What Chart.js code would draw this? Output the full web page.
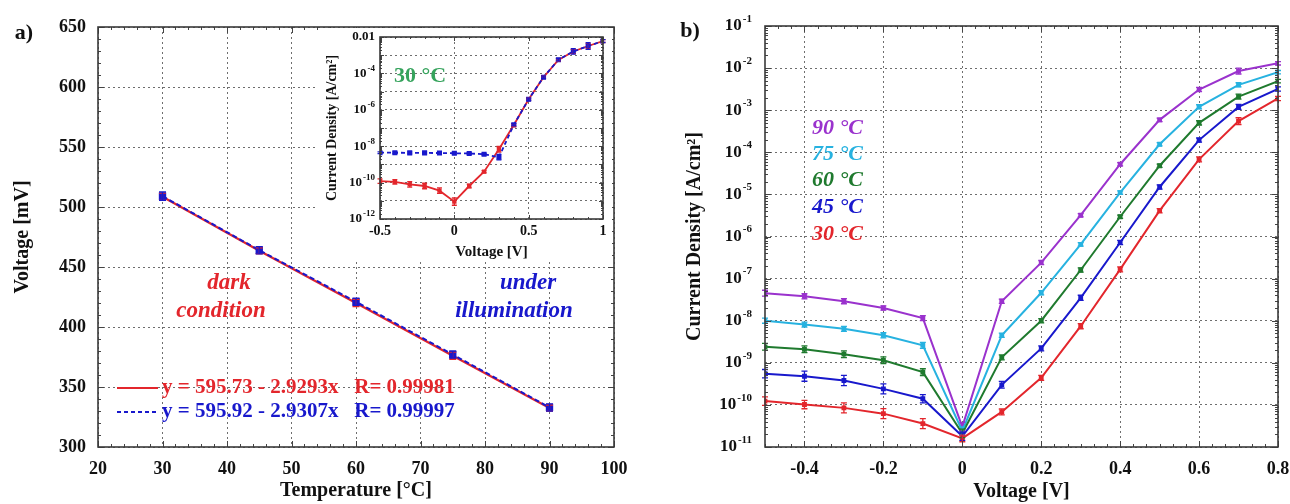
<!DOCTYPE html>
<html>
<head>
<meta charset="utf-8">
<script src="https://cdn.jsdelivr.net/npm/chart.js@4.4.1/dist/chart.umd.min.js"></script>
<style>
  html, body { margin: 0; padding: 0; background: #fff; }
  #wrap { position: relative; width: 1290px; height: 504px; overflow: hidden; }
  canvas { position: absolute; }
  #cA { left: 0; top: 0; }
  #cIn { left: 318px; top: 28px; background: #fff; }
  #cB { left: 640px; top: 0; }
</style>
</head>
<body>
<div id="wrap">
  <canvas id="cA" width="640" height="504"></canvas>
  <canvas id="cIn" width="294" height="234"></canvas>
  <canvas id="cB" width="650" height="504"></canvas>
</div>
<script>
/* ---------- a) open-circuit voltage vs temperature ---------- */
const tempC = [30, 45, 60, 75, 90];
const vocDark = [508.5, 463.5, 420, 376, 332.5];
const vocLight = [509, 464, 421, 377, 333];
const errDark = [3, 2.5, 3, 3, 2.5];
const errLight = [3.5, 3, 3, 3, 3];
const tempTicks = [20, 30, 40, 50, 60, 70, 80, 90, 100];
const vocTicks = [300, 350, 400, 450, 500, 550, 600, 650];
const fitDarkText = 'y = 595.73 - 2.9293x   R= 0.99981';
const fitLightText = 'y = 595.92 - 2.9307x   R= 0.99997';

/* ---------- inset: J-V at 30 °C ---------- */
const insetV = [-0.5, -0.4, -0.3, -0.2, -0.1, 0, 0.1, 0.2, 0.3, 0.4, 0.5, 0.6, 0.7, 0.8, 0.9, 1.0];
const insetDark = [1.2e-10, 1.1e-10, 8e-11, 6.5e-11, 3.6e-11, 9e-12, 6.5e-11, 4e-10, 6.8e-9, 1.45e-7, 3.8e-6, 6.2e-5, 5.5e-4, 1.6e-3, 3.2e-3, 6.0e-3];
const insetLight = [4.4e-9, 4.4e-9, 4.3e-9, 4.3e-9, 4.2e-9, 4.1e-9, 4.0e-9, 3.6e-9, 2.5e-9, 1.5e-7, 3.8e-6, 6.2e-5, 5.6e-4, 1.6e-3, 3.2e-3, 6.0e-3];
const insetDarkErr = [0.12, 0.12, 0.15, 0.15, 0.15, 0.2, 0.1, 0.06, 0.15, 0.08, 0.06, 0.06, 0.06, 0.12, 0.15, 0.08];
const insetLightErr = [0.05, 0.05, 0.05, 0.05, 0.05, 0.05, 0.05, 0.05, 0.15, 0.06, 0.06, 0.06, 0.06, 0.15, 0.18, 0.08];
const insetVTicks = [-0.5, 0, 0.5, 1];
const insetDecades = [-12, -11, -10, -9, -8, -7, -6, -5, -4, -3, -2];
const insetLabelExps = [-12, -10, -8, -6, -4, -2];

/* ---------- b) J-V at several temperatures ---------- */
const bV = [-0.5, -0.4, -0.3, -0.2, -0.1, 0, 0.1, 0.2, 0.3, 0.4, 0.5, 0.6, 0.7, 0.8];
const j90 = [4.5e-8, 3.8e-8, 2.9e-8, 2.0e-8, 1.15e-8, 3.0e-11, 2.9e-8, 2.4e-7, 3.2e-6, 5.2e-5, 5.9e-4, 3.1e-3, 8.5e-3, 1.3e-2];
const j75 = [1.0e-8, 8.1e-9, 6.4e-9, 4.5e-9, 2.6e-9, 2.4e-11, 4.5e-9, 4.6e-8, 6.5e-7, 1.1e-5, 1.55e-4, 1.2e-3, 4.0e-3, 8.0e-3];
const j60 = [2.4e-9, 2.1e-9, 1.6e-9, 1.15e-9, 6.0e-10, 2.1e-11, 1.35e-9, 1.0e-8, 1.6e-7, 2.95e-6, 4.8e-5, 5.0e-4, 2.1e-3, 4.9e-3];
const j45 = [5.5e-10, 4.8e-10, 3.8e-10, 2.4e-10, 1.4e-10, 1.8e-11, 3.0e-10, 2.2e-9, 3.5e-8, 7.2e-7, 1.5e-5, 1.95e-4, 1.2e-3, 3.2e-3];
const j30 = [1.23e-10, 1.02e-10, 8.5e-11, 6.2e-11, 3.6e-11, 1.6e-11, 6.8e-11, 4.4e-10, 7.4e-9, 1.65e-7, 4.1e-6, 6.8e-5, 5.5e-4, 1.9e-3];
const err90 = [0.07, 0.06, 0.06, 0.05, 0.06, 0.10, 0.05, 0.05, 0.04, 0.04, 0.04, 0.05, 0.07, 0.04];
const err75 = [0.06, 0.06, 0.06, 0.06, 0.07, 0.10, 0.05, 0.05, 0.04, 0.04, 0.04, 0.05, 0.05, 0.04];
const err60 = [0.08, 0.08, 0.08, 0.08, 0.08, 0.10, 0.06, 0.05, 0.05, 0.04, 0.04, 0.05, 0.06, 0.04];
const err45 = [0.10, 0.12, 0.12, 0.12, 0.10, 0.10, 0.08, 0.06, 0.06, 0.05, 0.05, 0.05, 0.06, 0.05];
const err30 = [0.10, 0.10, 0.12, 0.12, 0.12, 0.08, 0.07, 0.06, 0.06, 0.06, 0.05, 0.06, 0.08, 0.05];
const bVTicks = [-0.4, -0.2, 0, 0.2, 0.4, 0.6, 0.8];
const bDecades = [-11, -10, -9, -8, -7, -6, -5, -4, -3, -2, -1];
const tempLabels = ['90 °C', '75 °C', '60 °C', '45 °C', '30 °C'];

const RED = '#e3262c', BLUE = '#1818cc', PURPLE = '#9a32cd', CYAN = '#27b2e0', GREEN = '#1f7a2e';
const SERIF = '"Liberation Serif", "Times New Roman", serif';
Chart.defaults.font.family = SERIF;
Chart.defaults.font.weight = 'bold';
Chart.defaults.color = '#111';

const pts = (xs, ys) => xs.map((x, i) => ({ x: x, y: ys[i] }));

// minor tick helpers (axis decoration only)
function linMinor(min, max, step) {
  const out = [];
  for (let v = min; v <= max + step / 2; v += step) out.push(+v.toFixed(6));
  return out;
}
function logMinor(decades) {
  const out = [];
  decades.forEach(e => { for (let k = 1; k < 10; k++) out.push(k * Math.pow(10, e)); });
  return out;
}

/* frame around the plot area with inward ticks on all four sides */
const framePlugin = {
  id: 'frame',
  afterDraw(chart, args, o) {
    const { ctx, chartArea: a, scales } = chart;
    const sx = scales.x, sy = scales.y;
    ctx.save();
    ctx.strokeStyle = '#444';
    ctx.lineWidth = 1;
    ctx.beginPath();
    const mark = (list, len, axis) => list.forEach(v => {
      if (axis === 'x') {
        const p = Math.round(sx.getPixelForValue(v)) + 0.5;
        if (p < a.left - 1 || p > a.right + 1) return;
        ctx.moveTo(p, a.bottom); ctx.lineTo(p, a.bottom - len);
        ctx.moveTo(p, a.top); ctx.lineTo(p, a.top + len);
      } else {
        const p = Math.round(sy.getPixelForValue(v)) + 0.5;
        if (p < a.top - 1 || p > a.bottom + 1) return;
        ctx.moveTo(a.left, p); ctx.lineTo(a.left + len, p);
        ctx.moveTo(a.right, p); ctx.lineTo(a.right - len, p);
      }
    });
    mark(o.xMinor, o.minorLen || 3, 'x');
    mark(o.yMinor, o.minorLen || 3, 'y');
    mark(o.xMajor, o.majorLen || 6, 'x');
    mark(o.yMajor, o.majorLen || 6, 'y');
    ctx.stroke();
    ctx.lineWidth = 1.6;
    ctx.strokeStyle = '#3a3a3a';
    ctx.strokeRect(a.left, a.top, a.right - a.left, a.bottom - a.top);
    ctx.restore();
  }
};

/* vertical error bars with caps */
const errorBarPlugin = {
  id: 'errbars',
  afterDatasetsDraw(chart) {
    const { ctx } = chart;
    const n = chart.data.datasets.length;
    for (let i = n - 1; i >= 0; i--) {
      const ds = chart.data.datasets[i];
      if (!ds.err) continue;
      const sx = chart.scales.x, sy = chart.scales.y;
      ctx.save();
      ctx.strokeStyle = ds.borderColor;
      ctx.lineWidth = 1.3;
      ctx.setLineDash([]);
      ctx.beginPath();
      ds.data.forEach((p, j) => {
        const e = ds.err[j];
        const lo = ds.logErr ? p.y / Math.pow(10, e) : p.y - e;
        const hi = ds.logErr ? p.y * Math.pow(10, e) : p.y + e;
        const x = sx.getPixelForValue(p.x);
        const y1 = sy.getPixelForValue(lo), y2 = sy.getPixelForValue(hi);
        const c = ds.capHalf || 3;
        ctx.moveTo(x, y1); ctx.lineTo(x, y2);
        ctx.moveTo(x - c, y1); ctx.lineTo(x + c, y1);
        ctx.moveTo(x - c, y2); ctx.lineTo(x + c, y2);
      });
      ctx.stroke();
      ctx.restore();
    }
  }
};

/* free text and legend line samples */
const notesPlugin = {
  id: 'notes',
  afterDraw(chart, args, o) {
    const { ctx } = chart;
    ctx.save();
    (o.lines || []).forEach(l => {
      ctx.strokeStyle = l.color; ctx.lineWidth = 2;
      ctx.setLineDash(l.dash || []);
      ctx.beginPath(); ctx.moveTo(l.x1, l.y); ctx.lineTo(l.x2, l.y); ctx.stroke();
    });
    ctx.setLineDash([]);
    (o.items || []).forEach(t => {
      ctx.font = t.font;
      ctx.fillStyle = t.color;
      ctx.textAlign = t.align || 'center';
      ctx.textBaseline = 'middle';
      ctx.fillText(t.text, t.x, t.y);
    });
    ctx.restore();
  }
};

/* 10^n labels for log axes */
const logLabelPlugin = {
  id: 'logLabels',
  afterDraw(chart, args, o) {
    if (!o.exps) return;
    const { ctx } = chart;
    const sy = chart.scales.y;
    ctx.save();
    ctx.fillStyle = '#111';
    ctx.textBaseline = 'middle';
    ctx.textAlign = 'right';
    o.exps.forEach(e => {
      const y = sy.getPixelForValue(Math.pow(10, e));
      if (o.plain && o.plain[e]) {
        ctx.font = 'bold ' + o.big + 'px ' + SERIF;
        ctx.fillText(o.plain[e], o.right, y);
        return;
      }
      const sup = String(e);
      ctx.font = 'bold ' + o.small + 'px ' + SERIF;
      const w = ctx.measureText(sup).width;
      ctx.fillText(sup, o.right, y - o.raise);
      ctx.font = 'bold ' + o.big + 'px ' + SERIF;
      ctx.fillText('10', o.right - w - 1, y);
    });
    ctx.restore();
  }
};

const plugins = [errorBarPlugin, framePlugin, notesPlugin, logLabelPlugin];
const gridStyle = { color: '#6e6e6e', lineWidth: 1, drawTicks: false };
const borderStyle = { display: false, dash: [2, 3] };

/* ---------- chart a ---------- */
new Chart(document.getElementById('cA'), {
  type: 'scatter',
  data: {
    datasets: [
      { data: pts(tempC, vocLight), err: errLight, showLine: true, borderColor: BLUE, backgroundColor: BLUE,
        borderWidth: 2, borderDash: [5, 3], pointStyle: 'rect', pointRadius: 3.8, capHalf: 3.5 },
      { data: pts(tempC, vocDark), err: errDark, showLine: true, borderColor: RED, backgroundColor: RED,
        borderWidth: 2.2, pointStyle: 'rect', pointRadius: 3, capHalf: 3.5 }
    ]
  },
  options: {
    responsive: false, animation: false, events: [],
    layout: { padding: { left: 0, right: 26, top: 27, bottom: 0 } },
    plugins: {
      legend: { display: false }, tooltip: { enabled: false },
      frame: { xMajor: tempTicks, yMajor: vocTicks, xMinor: linMinor(20, 100, 2), yMinor: linMinor(300, 650, 10) },
      notes: {
        lines: [
          { x1: 117, x2: 158, y: 388, color: RED },
          { x1: 117, x2: 158, y: 412, color: BLUE, dash: [4, 3] }
        ],
        items: [
          { text: 'a)', x: 24, y: 33, font: 'bold 22px ' + SERIF, color: '#111' },
          { text: 'dark', x: 229, y: 283, font: 'italic bold 23px ' + SERIF, color: RED },
          { text: 'condition', x: 221, y: 311, font: 'italic bold 23px ' + SERIF, color: RED },
          { text: 'under', x: 528, y: 283, font: 'italic bold 23px ' + SERIF, color: BLUE },
          { text: 'illumination', x: 514, y: 311, font: 'italic bold 23px ' + SERIF, color: BLUE },
          { text: fitDarkText, x: 162, y: 388, align: 'left', font: 'bold 21px ' + SERIF, color: RED },
          { text: fitLightText, x: 162, y: 412, align: 'left', font: 'bold 21px ' + SERIF, color: BLUE }
        ]
      }
    },
    scales: {
      x: {
        type: 'linear', min: 20, max: 100,
        afterBuildTicks: s => { s.ticks = tempTicks.map(v => ({ value: v })); },
        ticks: { font: { size: 18 }, padding: 12, maxRotation: 0 },
        grid: gridStyle, border: borderStyle,
        title: { display: true, text: 'Temperature [°C]', font: { size: 20 }, padding: { top: 0, bottom: 1 } },
        afterFit: s => { s.height = 57; s.paddingLeft = 0; s.paddingRight = 0; }
      },
      y: {
        type: 'linear', min: 300, max: 650,
        afterBuildTicks: s => { s.ticks = vocTicks.map(v => ({ value: v })); },
        ticks: { font: { size: 18 }, padding: 12 },
        grid: gridStyle, border: borderStyle,
        title: { display: true, text: 'Voltage [mV]', font: { size: 20 }, padding: { top: 11, bottom: 0 } },
        afterFit: s => { s.width = 98; s.paddingTop = 0; s.paddingBottom = 0; }
      }
    }
  },
  plugins: plugins
});

/* ---------- inset ---------- */
new Chart(document.getElementById('cIn'), {
  type: 'scatter',
  data: {
    datasets: [
      { data: pts(insetV, insetLight), err: insetLightErr, logErr: true, showLine: true, borderColor: BLUE, backgroundColor: BLUE,
        borderWidth: 1.8, borderDash: [4, 3], pointStyle: 'rect', pointRadius: 2.3, capHalf: 2.5 },
      { data: pts(insetV, insetDark), err: insetDarkErr, logErr: true, showLine: true, borderColor: RED, backgroundColor: RED,
        borderWidth: 1.8, pointStyle: 'rect', pointRadius: 1.8, capHalf: 2.5 }
    ]
  },
  options: {
    responsive: false, animation: false, events: [],
    layout: { padding: { left: 0, right: 9, top: 9, bottom: 0 } },
    plugins: {
      legend: { display: false }, tooltip: { enabled: false },
      frame: { xMajor: insetVTicks, yMajor: insetDecades.map(e => Math.pow(10, e)), xMinor: linMinor(-0.5, 1, 0.1),
               yMinor: logMinor(insetDecades.slice(0, -1)), minorLen: 2, majorLen: 4 },
      notes: { items: [ { text: '30 °C', x: 102, y: 48, font: 'bold 22px ' + SERIF, color: '#35a35c' } ] },
      logLabels: { exps: insetLabelExps, right: 57, big: 13, small: 9, raise: 5, plain: { '-2': '0.01' } }
    },
    scales: {
      x: {
        type: 'linear', min: -0.5, max: 1,
        afterBuildTicks: s => { s.ticks = insetVTicks.map(v => ({ value: v })); },
        ticks: { font: { size: 14 }, padding: 4, maxRotation: 0, callback: v => String(v) },
        grid: gridStyle, border: borderStyle,
        title: { display: true, text: 'Voltage [V]', font: { size: 15 }, padding: { top: 0, bottom: 1 } },
        afterFit: s => { s.height = 43; s.paddingLeft = 0; s.paddingRight = 0; }
      },
      y: {
        type: 'logarithmic', min: 1e-12, max: 1e-2,
        afterBuildTicks: s => { s.ticks = insetDecades.map(e => ({ value: Math.pow(10, e) })); },
        ticks: { display: false },
        grid: gridStyle, border: borderStyle,
        title: { display: true, text: 'Current Density [A/cm²]', font: { size: 14 }, padding: { top: 6, bottom: 0 } },
        afterFit: s => { s.width = 62; s.paddingTop = 0; s.paddingBottom = 0; }
      }
    }
  },
  plugins: plugins
});

/* ---------- chart b ---------- */
const bSeries = [
  { ys: j30, err: err30, color: RED },
  { ys: j45, err: err45, color: BLUE },
  { ys: j60, err: err60, color: GREEN },
  { ys: j75, err: err75, color: CYAN },
  { ys: j90, err: err90, color: PURPLE }
];
const labelColors = [PURPLE, CYAN, GREEN, BLUE, RED];
const labelY = [128, 154, 180, 207, 234];

new Chart(document.getElementById('cB'), {
  type: 'scatter',
  data: {
    datasets: bSeries.map(s => ({
      data: pts(bV, s.ys), err: s.err, logErr: true, showLine: true,
      borderColor: s.color, backgroundColor: s.color, borderWidth: 2,
      pointStyle: 'rect', pointRadius: 2, capHalf: 3
    }))
  },
  options: {
    responsive: false, animation: false, events: [],
    layout: { padding: { left: 0, right: 12, top: 26, bottom: 0 } },
    plugins: {
      legend: { display: false }, tooltip: { enabled: false },
      frame: { xMajor: bVTicks, yMajor: bDecades.map(e => Math.pow(10, e)), xMinor: linMinor(-0.5, 0.8, 0.2 / 6),
               yMinor: logMinor(bDecades.slice(0, -1)) },
      notes: {
        items: [ { text: 'b)', x: 50, y: 31, font: 'bold 22px ' + SERIF, color: '#111' } ].concat(
          tempLabels.map((t, i) => ({ text: t, x: 172, y: labelY[i], align: 'left', font: 'italic bold 22px ' + SERIF, color: labelColors[i] })))
      },
      logLabels: { exps: bDecades, right: 112, big: 17, small: 11, raise: 7 }
    },
    scales: {
      x: {
        type: 'linear', min: -0.5, max: 0.8,
        afterBuildTicks: s => { s.ticks = bVTicks.map(v => ({ value: v })); },
        ticks: { font: { size: 18 }, padding: 12, maxRotation: 0, callback: v => String(v) },
        grid: gridStyle, border: borderStyle,
        title: { display: true, text: 'Voltage [V]', font: { size: 20 }, padding: { top: 0, bottom: 0 } },
        afterFit: s => { s.height = 57; s.paddingLeft = 0; s.paddingRight = 0; }
      },
      y: {
        type: 'logarithmic', min: 1e-11, max: 1e-1,
        afterBuildTicks: s => { s.ticks = bDecades.map(e => ({ value: Math.pow(10, e) })); },
        ticks: { display: false },
        grid: gridStyle, border: borderStyle,
        title: { display: true, text: 'Current Density [A/cm²]', font: { size: 20 }, padding: { top: 43, bottom: 0 } },
        afterFit: s => { s.width = 125; s.paddingTop = 0; s.paddingBottom = 0; }
      }
    }
  },
  plugins: plugins
});
</script>
</body>
</html>
